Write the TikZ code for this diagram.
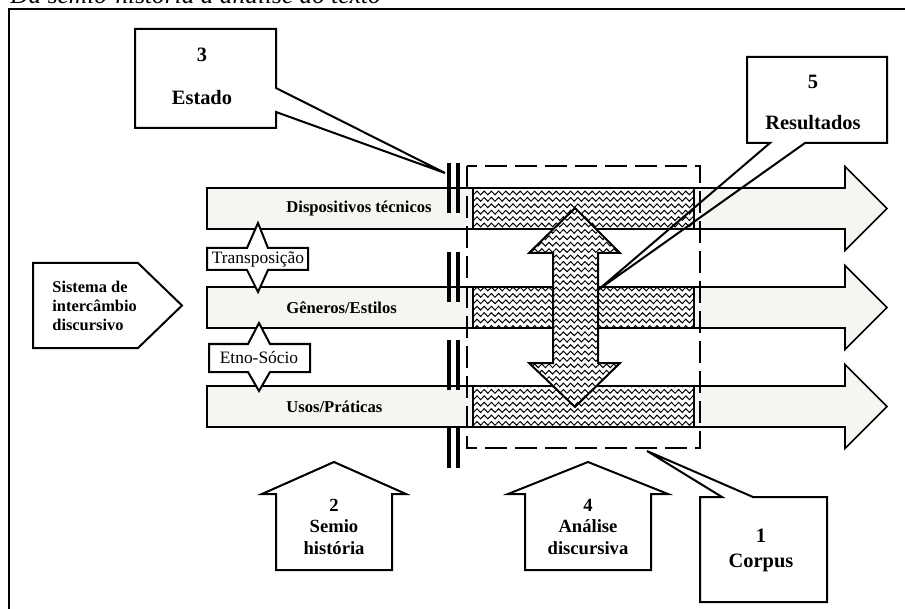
\documentclass[tikz,border=0pt]{standalone}
\usepackage{fontspec}
\setmainfont{Liberation Serif}
\usetikzlibrary{patterns}
\definecolor{ink}{HTML}{000000}
\definecolor{band}{HTML}{F6F5F1}
% wavy hatching of the analysed zone
\pgfdeclarepatternformonly{waves}{\pgfqpoint{-0.1pt}{-1.4pt}}{\pgfqpoint{3.7pt}{1.8pt}}{\pgfqpoint{3.6pt}{3.2pt}}{%
  \pgfsetlinewidth{0.5pt}
  \pgfpathmoveto{\pgfqpoint{0pt}{0pt}}
  \pgfpathcurveto{\pgfqpoint{0.6pt}{1.25pt}}{\pgfqpoint{1.2pt}{1.25pt}}{\pgfqpoint{1.8pt}{0pt}}
  \pgfpathcurveto{\pgfqpoint{2.4pt}{-1.25pt}}{\pgfqpoint{3pt}{-1.25pt}}{\pgfqpoint{3.6pt}{0pt}}
  \pgfusepath{stroke}}
\tikzset{
  outl/.style={draw=ink, line width=1pt},
  bandarrow/.style={draw=ink, line width=0.8pt, fill=band},
  hatch/.style={draw=ink, line width=#1, fill=white, postaction={pattern=waves}},
  hatch/.default=0.6pt,
  bar/.style={draw=ink, line width=1.8pt},
  corpusbox/.style={draw=ink, line width=1pt, dash pattern=on 11pt off 4pt},
  bandlbl/.style={font=\bfseries\fontsize{8.3}{10}\selectfont, inner sep=0pt, anchor=west},
  note/.style={font=\fontsize{8.7}{10}\selectfont, inner sep=0pt},
  call/.style={font=\bfseries\fontsize{10.2}{#1}\selectfont, inner sep=0pt, align=center},
  house/.style={font=\bfseries\fontsize{9.3}{10.75}\selectfont, inner sep=0pt, align=center},
}

\begin{document}
\begin{tikzpicture}[x=0.5pt,y=-0.5pt]
  \useasboundingbox (0,0) rectangle (905,609);
  % title, cut by the page edge
  \node[font=\itshape\fontsize{12.7}{14}\selectfont, anchor=base west, inner sep=0pt] (title) at (10,4) {Da semio-história à análise do texto};
  \draw[line width=0.6pt] (9,615) -- (9,9) -- (912,9);

  % the three bands
  \foreach \c/\lab [count=\i] in {208.5/Dispositivos técnicos, 307.5/{Gêneros/Estilos}, 406.5/{Usos/Práticas}} {
    \draw[bandarrow] (207,\c-20.5) -- (845,\c-20.5) -- (845,\c-42) -- (887,\c)
      -- (845,\c+42) -- (845,\c+20.5) -- (207,\c+20.5) -- cycle;
    \draw[hatch] (473,\c-20.5) rectangle (694,\c+20.5);
    \node[bandlbl] (band\i) at (286,\c) {\lab};
  }

  % double bars and corpus frame
  \foreach \t/\b in {163/213, 252/302, 340/390, 428/468}
    \draw[bar] (449,\t) -- (449,\b) (458,\t) -- (458,\b);
  \draw[corpusbox] (467,166) rectangle (700,448);

  % vertical double arrow
  \draw[hatch=1pt] (575,208) -- (620,253) -- (598,253) -- (598,363) -- (620,363) -- (575,407)
    -- (529,363) -- (553,363) -- (553,253) -- (529,253) -- cycle;

  % links between bands
  \draw[outl, fill=white] (207,248) -- (247,248) -- (258,223) -- (268,248) -- (308,248) -- (308,270)
    -- (268,270) -- (258,292) -- (247,270) -- (207,270) -- cycle;
  \node[note] (transp) at (258,259) {Transposição};
  \draw[outl, fill=white] (209,344) -- (248,344) -- (259,323) -- (270,344) -- (310,344) -- (310,372)
    -- (270,372) -- (259,391) -- (248,372) -- (209,372) -- cycle;
  \node[note] (etno) at (259,358) {Etno-Sócio};

  % entry
  \draw[outl] (33,263) -- (138,263) -- (182,305.5) -- (138,348) -- (33,348) -- cycle;
  \node[font=\bfseries\fontsize{8.2}{9.5}\selectfont, align=left, anchor=west, inner sep=0pt] (sistema) at (52,306) {Sistema de\\intercâmbio\\discursivo};

  % callouts
  \coordinate (estadotip) at (445,173);
  \draw[outl] (135,29) -- (276,29) -- (276,88) -- (estadotip) -- (276,112) -- (276,128) -- (135,128) -- cycle;
  \node[call=21.5] (estado) at (202,76.5) {3\\Estado};
  \coordinate (resultip) at (598,290);
  \draw[outl] (747,57) -- (887,57) -- (887,143) -- (805,143) -- (resultip) -- (770,143) -- (747,143) -- cycle;
  \node[call=20.5] (result) at (813,102.5) {5\\Resultados};
  \coordinate (corpustip) at (647,451);
  \draw[outl] (700,497) -- (722,497) -- (corpustip) -- (753,497) -- (827,497) -- (827,602) -- (700,602) -- cycle;
  \node[call=12.5] (corpus) at (761,550.5) {1\\Corpus};

  % upward houses
  \foreach \x/\hw/\bw/\txt [count=\i] in {334/72/58/{2\\Semio\\história}, 588/80/63/{4\\Análise\\discursiva}} {
    \draw[outl] (\x,462) -- (\x+\hw,494) -- (\x+\bw,494) -- (\x+\bw,570) -- (\x-\bw,570)
      -- (\x-\bw,494) -- (\x-\hw,494) -- cycle;
    \node[house] (house\i) at (\x,526.5) {\txt};
  }
\end{tikzpicture}
\end{document}
